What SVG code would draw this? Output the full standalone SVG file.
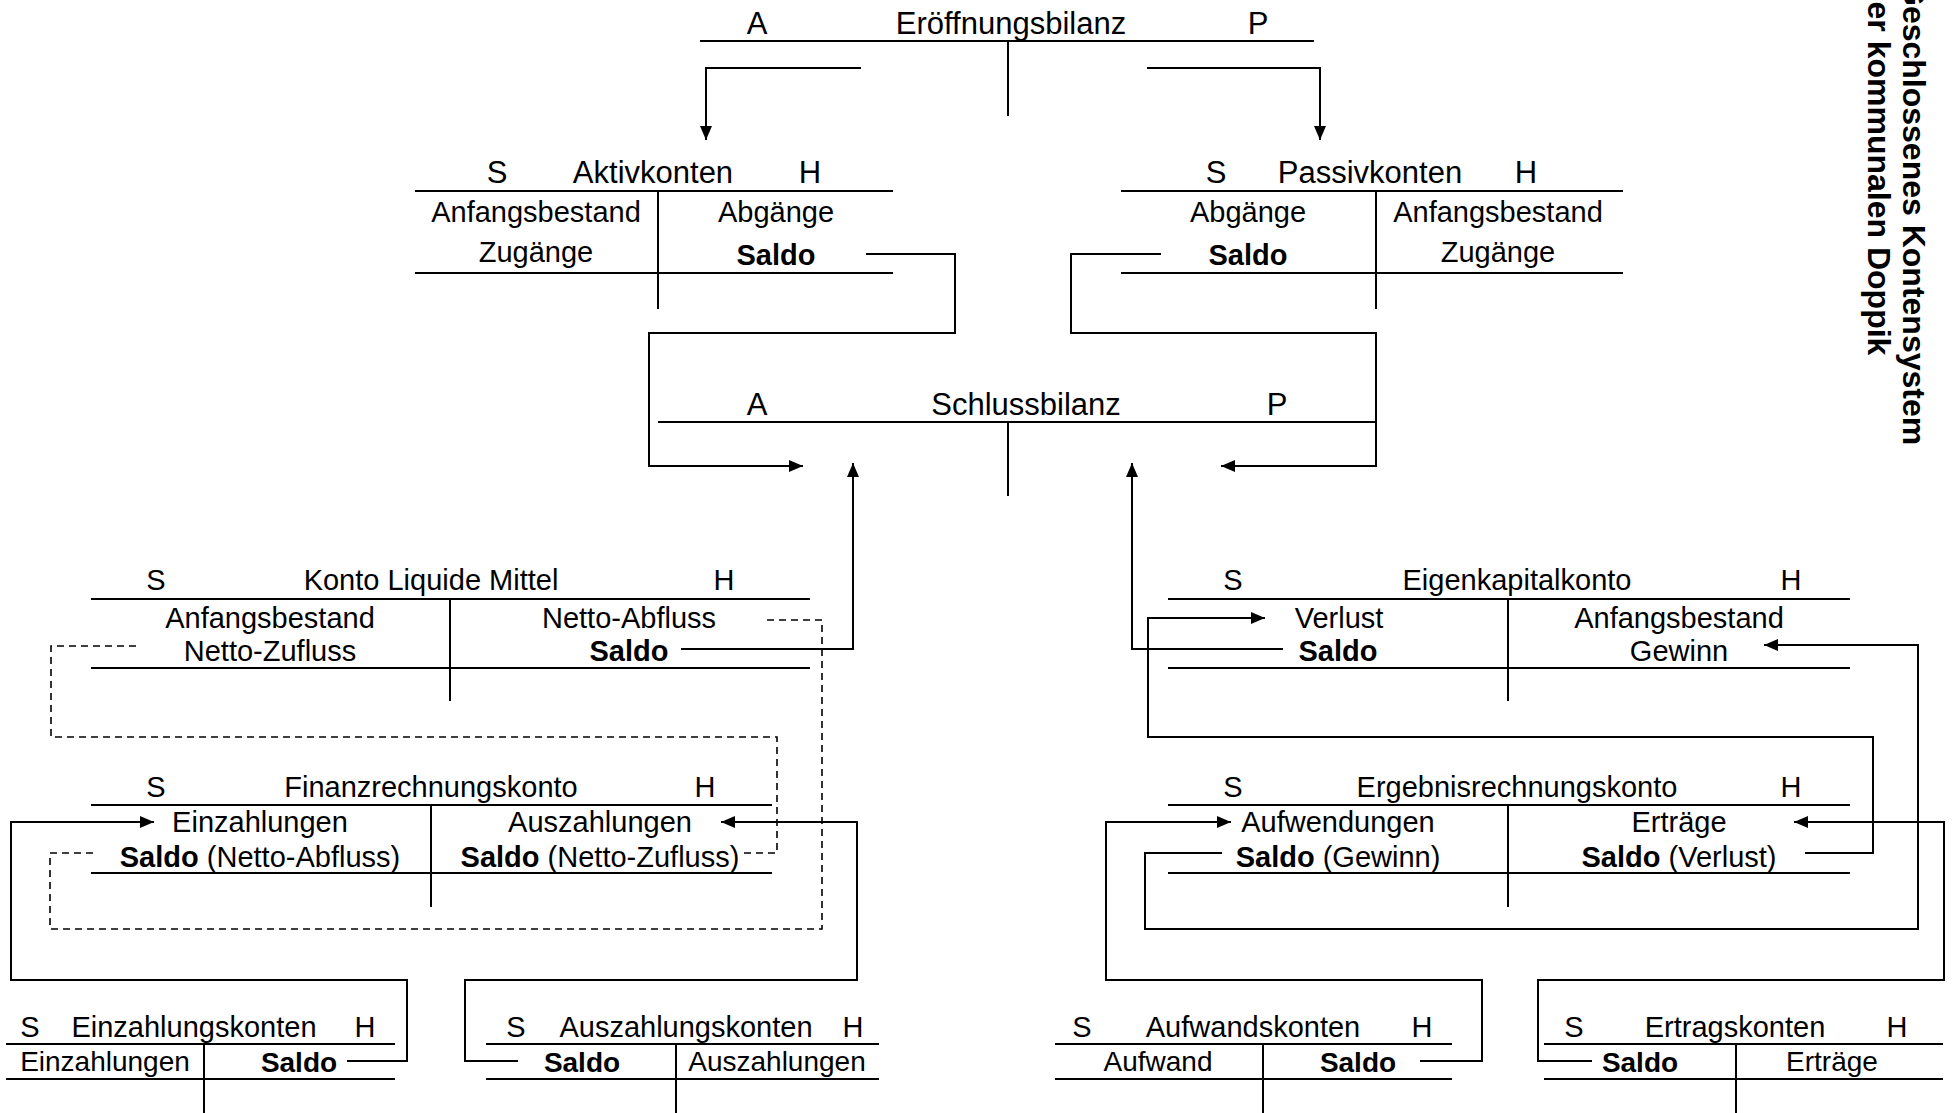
<svg xmlns="http://www.w3.org/2000/svg" width="1953" height="1113" viewBox="0 0 1953 1113">
<defs>
<marker id="ah" markerUnits="userSpaceOnUse" markerWidth="14" markerHeight="12" refX="14" refY="6" orient="auto"><path d="M0,0 L14,6 L0,12 z" fill="#000"/></marker>
<style>
text{font-family:"Liberation Sans",Arial,sans-serif;font-size:29px;fill:#000;text-anchor:middle}
.t{font-size:31px}
.s{font-size:28px}
.sh{font-size:29px}
.b{font-weight:bold}
.ln{stroke:#000;stroke-width:2;fill:none}
.c{stroke:#000;stroke-width:2;fill:none}
.a{marker-end:url(#ah)}
.d{stroke:#000;stroke-width:1.6;fill:none;stroke-dasharray:7 5}
.ttl{font-weight:bold;font-size:32px;text-anchor:start}
</style>
</defs>
<rect width="1953" height="1113" fill="#fff"/>

<g id="eroeffnungsbilanz">
<path class="ln" d="M700,41 H1314 M1008,41 V116"/>
<text class="t" x="757" y="34">A</text>
<text class="t" x="1011" y="34">Eröffnungsbilanz</text>
<text class="t" x="1258" y="34">P</text>
</g>

<g id="aktivkonten">
<path class="ln" d="M415,191 H893 M415,273 H893 M658,191 V309"/>
<text class="t" x="497" y="183">S</text>
<text class="t" x="653" y="183">Aktivkonten</text>
<text class="t" x="810" y="183">H</text>
<text x="536" y="222">Anfangsbestand</text>
<text x="776" y="222">Abgänge</text>
<text x="536" y="262">Zugänge</text>
<text class="b" x="776" y="265">Saldo</text>
</g>

<g id="passivkonten">
<path class="ln" d="M1121,191 H1623 M1121,273 H1623 M1376,191 V309"/>
<text class="t" x="1216" y="183">S</text>
<text class="t" x="1370" y="183">Passivkonten</text>
<text class="t" x="1526" y="183">H</text>
<text x="1248" y="222">Abgänge</text>
<text x="1498" y="222">Anfangsbestand</text>
<text class="b" x="1248" y="265">Saldo</text>
<text x="1498" y="262">Zugänge</text>
</g>

<g id="schlussbilanz">
<path class="ln" d="M658,422 H1376 M1008,422 V496"/>
<text class="t" x="757" y="415">A</text>
<text class="t" x="1026" y="415">Schlussbilanz</text>
<text class="t" x="1277" y="415">P</text>
</g>

<g id="liquide-mittel">
<path class="ln" d="M91,599 H810 M91,668 H810 M450,599 V701"/>
<text x="156" y="590">S</text>
<text x="431" y="590">Konto Liquide Mittel</text>
<text x="724" y="590">H</text>
<text x="270" y="628">Anfangsbestand</text>
<text x="629" y="628">Netto-Abfluss</text>
<text x="270" y="661">Netto-Zufluss</text>
<text class="b" x="629" y="661">Saldo</text>
</g>

<g id="eigenkapitalkonto">
<path class="ln" d="M1168,599 H1850 M1168,668 H1850 M1508,599 V701"/>
<text x="1233" y="590">S</text>
<text x="1517" y="590">Eigenkapitalkonto</text>
<text x="1791" y="590">H</text>
<text x="1339" y="628">Verlust</text>
<text x="1679" y="628">Anfangsbestand</text>
<text class="b" x="1338" y="661">Saldo</text>
<text x="1679" y="661">Gewinn</text>
</g>

<g id="finanzrechnungskonto">
<path class="ln" d="M91,805 H772 M91,873 H772 M431,805 V907"/>
<text x="156" y="797">S</text>
<text x="431" y="797">Finanzrechnungskonto</text>
<text x="705" y="797">H</text>
<text x="260" y="832">Einzahlungen</text>
<text x="600" y="832">Auszahlungen</text>
<text x="260" y="867"><tspan class="b">Saldo</tspan> (Netto-Abfluss)</text>
<text x="600" y="867"><tspan class="b">Saldo</tspan> (Netto-Zufluss)</text>
</g>

<g id="ergebnisrechnungskonto">
<path class="ln" d="M1168,805 H1850 M1168,873 H1850 M1508,805 V907"/>
<text x="1233" y="797">S</text>
<text x="1517" y="797">Ergebnisrechnungskonto</text>
<text x="1791" y="797">H</text>
<text x="1338" y="832">Aufwendungen</text>
<text x="1679" y="832">Erträge</text>
<text x="1338" y="867"><tspan class="b">Saldo</tspan> (Gewinn)</text>
<text x="1679" y="867"><tspan class="b">Saldo</tspan> (Verlust)</text>
</g>

<g id="einzahlungskonten">
<path class="ln" d="M6,1044 H395 M6,1079 H395 M204,1044 V1113"/>
<text class="sh" x="30" y="1037">S</text>
<text class="sh" x="194" y="1037">Einzahlungskonten</text>
<text class="sh" x="365" y="1037">H</text>
<text class="s" x="105" y="1071">Einzahlungen</text>
<text class="s b" x="299" y="1072">Saldo</text>
</g>

<g id="auszahlungskonten">
<path class="ln" d="M486,1044 H879 M486,1079 H879 M676,1044 V1113"/>
<text class="sh" x="516" y="1037">S</text>
<text class="sh" x="686" y="1037">Auszahlungskonten</text>
<text class="sh" x="853" y="1037">H</text>
<text class="s b" x="582" y="1072">Saldo</text>
<text class="s" x="777" y="1071">Auszahlungen</text>
</g>

<g id="aufwandskonten">
<path class="ln" d="M1055,1044 H1452 M1055,1079 H1452 M1263,1044 V1113"/>
<text class="sh" x="1082" y="1037">S</text>
<text class="sh" x="1253" y="1037">Aufwandskonten</text>
<text class="sh" x="1422" y="1037">H</text>
<text class="s" x="1158" y="1071">Aufwand</text>
<text class="s b" x="1358" y="1072">Saldo</text>
</g>

<g id="ertragskonten">
<path class="ln" d="M1544,1044 H1943 M1544,1079 H1943 M1736,1044 V1113"/>
<text class="sh" x="1574" y="1037">S</text>
<text class="sh" x="1735" y="1037">Ertragskonten</text>
<text class="sh" x="1897" y="1037">H</text>
<text class="s b" x="1640" y="1072">Saldo</text>
<text class="s" x="1832" y="1071">Erträge</text>
</g>

<g id="titel">
<text class="ttl" transform="translate(1903,-19) rotate(90)">Geschlossenes Kontensystem</text>
<text class="ttl" transform="translate(1868,-18) rotate(90)">der kommunalen Doppik</text>
</g>

<g id="connectors">
<path class="c a" d="M861,68 H706 V140"/>
<path class="c a" d="M1147,68 H1320 V140"/>
<path class="c a" d="M866,254 H955 V333 H649 V466 H803"/>
<path class="c a" d="M1161,254 H1071 V333 H1376 V466 H1221"/>
<path class="c a" d="M681,649 H853 V463"/>
<path class="c a" d="M1283,649 H1132 V463"/>
<path class="c a" d="M1805,853 H1873 V737 H1148 V618 H1265"/>
<path class="c a" d="M1222,853 H1145 V929 H1918 V645 H1764"/>
<path class="c a" d="M1420,1061 H1482 V980 H1106 V822 H1231"/>
<path class="c a" d="M1592,1061 H1538 V980 H1944 V822 H1794"/>
<path class="c a" d="M347,1061 H407 V980 H11 V822 H154"/>
<path class="c a" d="M518,1061 H465 V980 H857 V822 H721"/>
<path class="d" d="M93,853 H50 V929 H822 V620 H762"/>
<path class="d" d="M744,853 H777 V737 H51 V646 H139"/>
</g>
</svg>
